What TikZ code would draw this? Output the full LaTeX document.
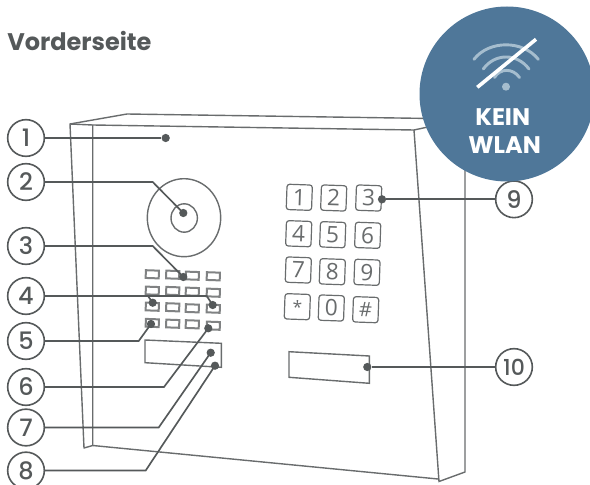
\documentclass[tikz,border=0pt]{standalone}
\usepackage{fontspec}
\setmainfont{Poppins}
\newfontfamily\keyfont{Open Sans}
\newfontfamily\numfont{Poppins Medium}
\definecolor{ink}{HTML}{55595A}
\definecolor{edge}{HTML}{696C6D}
\definecolor{badge}{HTML}{4F7799}
\definecolor{wifi}{HTML}{A5BDCE}
\tikzset{
  outline/.style={draw=edge,line width=1.05pt},
  numcirc/.style={circle,draw=ink,line width=1.2pt,fill=white,minimum size=27.5pt,inner sep=0pt,text=ink,font=\numfont\fontsize{18}{18}\selectfont},
  conn/.style={draw=ink,line width=1.25pt},
  pin/.style={circle,fill=ink,minimum size=6.2pt,inner sep=0pt},
  btn/.style={draw=edge!85,line width=1.5pt,minimum width=9.8pt,minimum height=5.8pt,inner sep=0pt,rotate=-2},
  keycap/.style={draw=edge,line width=.9pt,rounded corners=2pt,minimum size=19pt,inner sep=0pt,rotate=-2,text=edge,font=\keyfont\fontsize{17}{17}\selectfont},
  wifiarc/.style={draw=wifi,line width=2.2pt,line cap=round},
}
\begin{document}
\begin{tikzpicture}[x=0.75pt,y=-0.75pt]
\clip (0,0) rectangle (590,485);
% housing
\path[outline,line join=round] (92.7,125) -- (70,124) -- (84,448) -- (92.7,445.5) -- cycle;
\path[outline] (70,124) -- (127,114) -- (465,119) -- (465,472) -- (439,481.5) -- (414,130) -- (92.7,125);
\path[outline] (414,130) -- (465,119);
\path[outline] (92.7,445.5) -- (438,479);
% camera
\path[outline] (184,217.7) ellipse [x radius=36.7,y radius=39];
\path[outline] (184.2,218) ellipse [x radius=13.2,y radius=14.2];
% buttons
\node[btn] (b11) at (152.3,274.3) {}; \node[btn] (b12) at (172.7,274.7) {}; \node[btn] (b13) at (192.3,275.7) {}; \node[btn] (b14) at (213.3,276.3) {};
\node[btn] (b21) at (152.3,290.7) {}; \node[btn] (b22) at (172.7,291) {}; \node[btn] (b23) at (192.3,291.7) {}; \node[btn] (b24) at (213.3,292.7) {};
\node[btn] (b31) at (152.3,306.7) {}; \node[btn] (b32) at (172.7,307.3) {}; \node[btn] (b33) at (192.3,308.3) {}; \node[btn] (b34) at (213.3,308.7) {};
\node[btn] (b41) at (152.3,323) {}; \node[btn] (b42) at (172.7,323.7) {}; \node[btn] (b43) at (192.3,324.3) {}; \node[btn] (b44) at (213.3,325.7) {};
% panels
\path[outline] (145,340) -- (221.3,343.3) -- (221.3,367.3) -- (145,362.7) -- cycle;
\path[outline] (289,351.7) -- (369.3,356) -- (369.3,383.3) -- (289,377.3) -- cycle;
% keypad
\node[keycap] (k1) at (299.3,197.3) {1}; \node[keycap] (k2) at (333.7,198) {2}; \node[keycap] (k3) at (368.7,198) {3};
\node[keycap] (k4) at (298.7,233.7) {4}; \node[keycap] (k5) at (332.7,234.7) {5}; \node[keycap] (k6) at (367.7,235.3) {6};
\node[keycap] (k7) at (298.3,270) {7}; \node[keycap] (k8) at (332.3,271.7) {8}; \node[keycap] (k9) at (367,272.3) {9};
\node[keycap,font=\keyfont\fontsize{13}{13}\selectfont] (kstar) at (297.3,306.7) {*}; \node[keycap] (k0) at (331.3,308) {0}; \node[keycap,font=\keyfont\fontsize{15}{15}\selectfont] (khash) at (365.7,309.7) {\#};
% number circles
\node[numcirc] (c1) at (26,138) {1};
\node[numcirc] (c2) at (26,182) {2};
\node[numcirc] (c3) at (26,246) {3};
\node[numcirc] (c4) at (26,296) {4};
\node[numcirc] (c5) at (26,341) {5};
\node[numcirc] (c6) at (26,387) {6};
\node[numcirc] (c7) at (26,427.5) {7};
\node[numcirc] (c8) at (26,470.5) {8};
\node[numcirc] (c9) at (514,199.3) {9};
\node[numcirc,font=\numfont\fontsize{16.5}{16.5}\selectfont] (c10) at (514,367) {10};
% pins
\node[pin] (d1) at (165.7,138) {};
\node[pin] (d2) at (183.3,213) {};
\node[pin] (d3) at (183.3,277) {};
\node[pin] (d4a) at (152.7,302.7) {};
\node[pin] (d4b) at (212.7,305) {};
\node[pin] (d5) at (151,324) {};
\node[pin] (d6) at (208.3,328.3) {};
\node[pin] (d7) at (210.7,352.7) {};
\node[pin] (d8) at (215,365.7) {};
\node[pin] (d9) at (382,199.3) {};
\node[pin] (d10) at (367.3,367) {};
% elbows
\coordinate (e2) at (152.7,182);
\coordinate (e3) at (152.7,246);
\coordinate (e4a) at (148,296);
\coordinate (e4b) at (206.7,296);
\coordinate (e5) at (138.7,341);
\coordinate (e6) at (164,387);
\coordinate (e7) at (158.7,427.5);
\coordinate (e8) at (145.7,470.5);
% connectors
\path[conn] (c1) -- (d1);
\path[conn] (c2) -- (e2) -- (d2.center);
\path[conn] (c3) -- (e3) -- (d3.center);
\path[conn] (c4) -- (e4b) -- (d4b.center);
\path[conn] (e4a) -- (d4a.center);
\path[conn] (c5) -- (e5) -- (d5.center);
\path[conn] (c6) -- (e6) -- (d6.center);
\path[conn] (c7) -- (e7) -- (d7.center);
\path[conn] (c8) -- (e8) -- (d8.center);
\path[conn] (c9) -- (d9);
\path[conn] (c10) -- (d10);
% badge
\fill[badge] (507,94) circle [radius=87.5];
\path[wifiarc] (474,59.3) .. controls (489,40) and (523,40) .. (538.3,59.3);
\path[wifiarc] (483.3,69) .. controls (495,53) and (517,53) .. (529,69);
\path[wifiarc] (494.5,77.5) .. controls (500,68) and (513,68) .. (519.5,77.5);
\fill[wifi] (506,86.7) circle [radius=4];
\draw[white,line width=2.7pt] (477.3,87.3) -- (536,39.3);
\node[text=white,font=\bfseries\fontsize{18}{18}\selectfont] (kein) at (502.7,117.3) {KEIN};
\node[text=white,font=\bfseries\fontsize{18}{18}\selectfont] (wlan) at (504.7,145) {WLAN};
% title
\node[anchor=base west,inner sep=0pt,text=ink,font=\bfseries\fontsize{18}{18}\selectfont] (title) at (7,51) {Vorderseite};
\end{tikzpicture}
\end{document}
